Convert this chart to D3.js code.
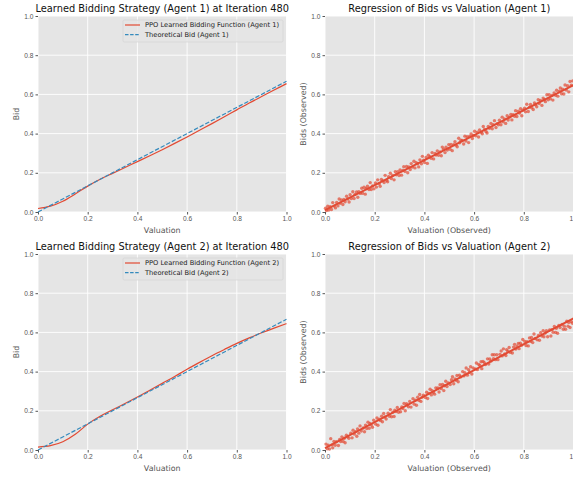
<!DOCTYPE html>
<meta charset="utf-8">
<style>
body { margin: 0; background: #fff; }
svg { font-family: "DejaVu Sans", sans-serif; }
.tick text { fill: #555; font-size: 6.6px; }
.tick line { stroke: #555; }
.grid line { stroke: #fff; stroke-width: 0.9; }
.title { font-size: 9.8px; fill: #111; }
.axlabel { font-size: 7.9px; fill: #555; }
.legend text { font-size: 6.7px; fill: #222; }
</style>
<svg width="573" height="479"></svg>
<script src="https://cdn.jsdelivr.net/npm/d3@7"></script>
<script>

// valuation grid for the learned bidding functions
var grid = [0, .05, .1, .15, .2, .25, .3, .35, .4, .45, .5, .55, .6, .65, .7, .75, .8, .85, .9, .95, 1];
var learned1 = [0.018, 0.030, 0.055, 0.092, 0.132, 0.167, 0.197, 0.227, 0.257, 0.287, 0.318,
                0.350, 0.383, 0.417, 0.451, 0.486, 0.521, 0.556, 0.589, 0.622, 0.655];
var learned2 = [0.015, 0.022, 0.042, 0.080, 0.132, 0.172, 0.205, 0.237, 0.270, 0.305, 0.340,
                0.375, 0.412, 0.447, 0.481, 0.513, 0.544, 0.572, 0.598, 0.622, 0.645];
// theoretical bid endpoints
var theoryX = [0, 1];
var theory1 = [0, 0.667];
var theory2 = [0, 0.667];

var ticks = [0, 0.2, 0.4, 0.6, 0.8, 1.0];

// observed valuations / bids (agent 1)
var valuation1 = [
 0.002,0.006,0.011,0.015,0.021,0.026,0.031,0.037,0.042,0.047,
 0.052,0.057,0.061,0.066,0.072,0.076,0.081,0.087,0.092,0.097,
 0.101,0.106,0.112,0.117,0.121,0.127,0.132,0.136,0.142,0.148,
 0.151,0.157,0.162,0.166,0.171,0.177,0.182,0.186,0.191,0.197,
 0.203,0.207,0.212,0.218,0.222,0.227,0.233,0.238,0.242,0.248,
 0.252,0.256,0.263,0.267,0.272,0.278,0.283,0.287,0.293,0.298,
 0.302,0.308,0.313,0.317,0.322,0.328,0.333,0.337,0.343,0.347,
 0.352,0.358,0.362,0.367,0.373,0.377,0.382,0.388,0.392,0.397,
 0.401,0.407,0.412,0.416,0.422,0.427,0.431,0.437,0.443,0.447,
 0.452,0.457,0.463,0.468,0.472,0.477,0.483,0.487,0.492,0.498,
 0.503,0.507,0.512,0.518,0.523,0.527,0.532,0.538,0.542,0.547,
 0.552,0.558,0.563,0.567,0.572,0.578,0.582,0.588,0.593,0.597,
 0.602,0.607,0.613,0.618,0.622,0.628,0.633,0.637,0.642,0.648,
 0.652,0.657,0.662,0.668,0.673,0.677,0.682,0.688,0.693,0.698,
 0.702,0.708,0.713,0.717,0.722,0.727,0.733,0.737,0.742,0.748,
 0.752,0.757,0.763,0.767,0.772,0.778,0.783,0.787,0.792,0.797,
 0.803,0.807,0.812,0.818,0.823,0.827,0.832,0.838,0.843,0.847,
 0.852,0.858,0.862,0.867,0.873,0.878,0.882,0.887,0.893,0.898,
 0.902,0.907,0.913,0.917,0.922,0.928,0.932,0.937,0.943,0.947,
 0.952,0.956,0.961,0.966,0.971,0.976,0.981,0.986,0.991,0.997];
var bids1 = [
 0.019,0.008,0.029,0.010,0.027,0.013,0.048,0.030,0.021,0.049,
 0.031,0.066,0.045,0.062,0.038,0.064,0.052,0.080,0.066,0.051,
 0.088,0.069,0.103,0.069,0.090,0.102,0.075,0.103,0.095,0.121,
 0.096,0.126,0.091,0.120,0.132,0.115,0.150,0.115,0.133,0.118,
 0.148,0.127,0.164,0.144,0.131,0.166,0.159,0.150,0.187,0.161,
 0.154,0.180,0.198,0.171,0.187,0.164,0.205,0.190,0.206,0.186,
 0.214,0.188,0.212,0.231,0.206,0.232,0.200,0.230,0.217,0.247,
 0.229,0.259,0.225,0.252,0.246,0.230,0.266,0.246,0.284,0.264,
 0.252,0.278,0.248,0.290,0.282,0.274,0.303,0.271,0.299,0.291,
 0.312,0.289,0.306,0.287,0.331,0.320,0.303,0.330,0.316,0.344,
 0.320,0.345,0.313,0.344,0.359,0.341,0.333,0.376,0.353,0.366,
 0.365,0.347,0.387,0.362,0.384,0.354,0.386,0.398,0.375,0.390,
 0.412,0.389,0.407,0.383,0.419,0.407,0.399,0.436,0.421,0.411,
 0.403,0.437,0.427,0.452,0.425,0.446,0.466,0.431,0.451,0.445,
 0.468,0.445,0.484,0.460,0.475,0.452,0.491,0.469,0.484,0.498,
 0.470,0.497,0.488,0.517,0.487,0.514,0.505,0.527,0.491,0.520,
 0.529,0.511,0.550,0.513,0.535,0.549,0.532,0.523,0.556,0.547,
 0.537,0.573,0.553,0.569,0.544,0.581,0.573,0.563,0.598,0.573,
 0.599,0.577,0.595,0.571,0.607,0.596,0.621,0.591,0.616,0.633,
 0.603,0.627,0.602,0.648,0.622,0.644,0.613,0.666,0.647,0.669];

// observed valuations / bids (agent 2)
var valuation2 = [
 0.004,0.009,0.013,0.018,0.023,0.028,0.031,0.036,0.041,0.046,
 0.054,0.059,0.063,0.068,0.073,0.078,0.081,0.086,0.091,0.096,
 0.104,0.109,0.113,0.118,0.123,0.128,0.131,0.136,0.141,0.146,
 0.154,0.159,0.163,0.168,0.173,0.178,0.181,0.186,0.191,0.196,
 0.204,0.209,0.213,0.218,0.223,0.228,0.231,0.236,0.241,0.246,
 0.254,0.259,0.263,0.268,0.273,0.278,0.281,0.286,0.291,0.296,
 0.304,0.309,0.313,0.318,0.323,0.328,0.331,0.336,0.341,0.346,
 0.354,0.359,0.363,0.368,0.373,0.378,0.381,0.386,0.391,0.396,
 0.404,0.409,0.413,0.418,0.423,0.428,0.431,0.436,0.441,0.446,
 0.454,0.459,0.463,0.468,0.473,0.478,0.481,0.486,0.491,0.496,
 0.504,0.509,0.513,0.518,0.523,0.528,0.531,0.536,0.541,0.546,
 0.554,0.559,0.563,0.568,0.573,0.578,0.581,0.586,0.591,0.596,
 0.604,0.609,0.613,0.618,0.623,0.628,0.631,0.636,0.641,0.646,
 0.654,0.659,0.663,0.668,0.673,0.678,0.681,0.686,0.691,0.696,
 0.704,0.709,0.713,0.718,0.723,0.728,0.731,0.736,0.741,0.746,
 0.754,0.759,0.763,0.768,0.773,0.778,0.781,0.786,0.791,0.796,
 0.804,0.809,0.813,0.818,0.823,0.828,0.831,0.836,0.841,0.846,
 0.854,0.859,0.863,0.868,0.873,0.878,0.881,0.886,0.891,0.896,
 0.904,0.909,0.913,0.918,0.923,0.928,0.931,0.936,0.941,0.946,
 0.954,0.959,0.963,0.968,0.973,0.978,0.981,0.986,0.991,0.996];
var bids2 = [
 0.030,0.006,0.024,0.005,0.058,0.026,0.011,0.043,0.024,0.042,
 0.023,0.054,0.043,0.067,0.043,0.060,0.037,0.075,0.067,0.060,
 0.086,0.062,0.101,0.081,0.094,0.070,0.108,0.086,0.123,0.097,
 0.112,0.093,0.127,0.110,0.142,0.111,0.135,0.128,0.116,0.152,
 0.132,0.163,0.126,0.157,0.150,0.172,0.144,0.186,0.168,0.158,
 0.188,0.172,0.206,0.170,0.193,0.171,0.203,0.196,0.217,0.192,
 0.195,0.220,0.212,0.237,0.200,0.236,0.229,0.221,0.248,0.219,
 0.262,0.234,0.254,0.228,0.269,0.253,0.283,0.248,0.270,0.280,
 0.268,0.295,0.263,0.289,0.310,0.281,0.303,0.293,0.285,0.317,
 0.316,0.296,0.333,0.313,0.334,0.303,0.328,0.351,0.324,0.342,
 0.334,0.359,0.374,0.338,0.362,0.356,0.380,0.348,0.382,0.373,
 0.400,0.378,0.394,0.418,0.382,0.410,0.397,0.425,0.388,0.419,
 0.414,0.444,0.410,0.437,0.431,0.450,0.415,0.452,0.446,0.436,
 0.465,0.439,0.464,0.454,0.486,0.466,0.486,0.461,0.486,0.461,
 0.488,0.505,0.480,0.516,0.490,0.482,0.512,0.504,0.523,0.498,
 0.495,0.525,0.539,0.515,0.529,0.544,0.517,0.545,0.535,0.564,
 0.554,0.533,0.553,0.531,0.572,0.554,0.574,0.548,0.592,0.569,
 0.562,0.584,0.560,0.598,0.582,0.609,0.578,0.597,0.609,0.578,
 0.613,0.582,0.614,0.601,0.630,0.600,0.621,0.596,0.635,0.625,
 0.640,0.616,0.632,0.616,0.657,0.632,0.651,0.625,0.655,0.647];

var red = "#E24A33", blue = "#348ABD";
var svg = d3.select("svg");

// sets up background, grid, axes and labels; returns scales
function panel(x0, y0, title, xlab, ylab) {
  var w = 248.5, h = 196;
  var x = d3.scaleLinear().domain([0, 1]).range([x0, x0 + w]);
  var y = d3.scaleLinear().domain([0, 1]).range([y0 + h, y0]);
  var g = svg.append("g");

  g.append("rect").attr("x", x0).attr("y", y0).attr("width", w).attr("height", h).attr("fill", "#E5E5E5");

  var gr = g.append("g").attr("class", "grid");
  gr.selectAll("line.v").data(ticks).enter().append("line").attr("class", "v")
      .attr("x1", d => x(d)).attr("x2", d => x(d)).attr("y1", y0).attr("y2", y0 + h);
  gr.selectAll("line.h").data(ticks).enter().append("line").attr("class", "h")
      .attr("x1", x0).attr("x2", x0 + w).attr("y1", d => y(d)).attr("y2", d => y(d));

  var xa = g.append("g").attr("transform", "translate(0," + (y0 + h) + ")")
    .call(d3.axisBottom(x).tickValues(ticks).tickFormat(d3.format(".1f")).tickSize(2.5).tickPadding(2));
  var ya = g.append("g").attr("transform", "translate(" + x0 + ",0)")
    .call(d3.axisLeft(y).tickValues(ticks).tickFormat(d3.format(".1f")).tickSize(2.5).tickPadding(2));
  xa.select(".domain").remove();
  ya.select(".domain").remove();

  g.append("text").attr("class", "title").attr("x", x0 + w / 2).attr("y", y0 - 4)
    .attr("text-anchor", "middle").text(title);
  g.append("text").attr("class", "axlabel").attr("x", x0 + w / 2).attr("y", y0 + h + 21)
    .attr("text-anchor", "middle").text(xlab);
  g.append("text").attr("class", "axlabel")
    .attr("transform", "translate(" + (x0 - 19) + "," + (y0 + h / 2) + ") rotate(-90)")
    .attr("text-anchor", "middle").text(ylab);

  return { x: x, y: y, g: g };
}

function strategy(x0, y0, agent, learned, theory) {
  var p = panel(x0, y0, "Learned Bidding Strategy (Agent " + agent + ") at Iteration 480", "Valuation", "Bid");
  var line = d3.line().x(d => p.x(d[0])).y(d => p.y(d[1]));
  p.g.append("path").datum(d3.zip(grid, learned))
    .attr("d", line.curve(d3.curveMonotoneX)).attr("fill", "none")
    .attr("stroke", red).attr("stroke-width", 1.2);
  p.g.append("path").datum(d3.zip(theoryX, theory))
    .attr("d", d3.line().x(d => p.x(d[0])).y(d => p.y(d[1]))).attr("fill", "none")
    .attr("stroke", blue).attr("stroke-width", 1.2).attr("stroke-dasharray", "4.4,1.9");

  // legend
  var lg = p.g.append("g").attr("class", "legend").attr("transform", "translate(" + (x0 + 85) + "," + (y0 + 4) + ")");
  lg.append("rect").attr("width", 160).attr("height", 22).attr("rx", 1.5)
    .attr("fill", "#E5E5E5").attr("fill-opacity", 0.8).attr("stroke", "#d0d0d0").attr("stroke-width", 0.6);
  var items = [["PPO Learned Bidding Function (Agent " + agent + ")", red, null],
               ["Theoretical Bid (Agent " + agent + ")", blue, "3.5,1.6"]];
  items.forEach(function(it, i) {
    var yy = 5 + i * 9.6;
    lg.append("line").attr("x1", 2).attr("x2", 17).attr("y1", yy).attr("y2", yy)
      .attr("stroke", it[1]).attr("stroke-width", 1.2).attr("stroke-dasharray", it[2]);
    lg.append("text").attr("x", 22).attr("y", yy + 2.4).text(it[0]);
  });
}

function regression(x0, y0, agent, vals, bids) {
  var p = panel(x0, y0, "Regression of Bids vs Valuation (Agent " + agent + ")", "Valuation (Observed)", "Bids (Observed)");
  p.g.append("g").selectAll("circle").data(d3.zip(vals, bids)).enter().append("circle")
    .attr("cx", d => p.x(d[0])).attr("cy", d => p.y(d[1])).attr("r", 1.7)
    .attr("fill", red).attr("fill-opacity", 0.7);
  // least squares fit
  var mx = d3.mean(vals), my = d3.mean(bids);
  var sxy = d3.sum(vals, (v, i) => (v - mx) * (bids[i] - my));
  var sxx = d3.sum(vals, v => (v - mx) * (v - mx));
  var b = sxy / sxx, a = my - b * mx;
  var ext = [0, 1];
  p.g.append("line").attr("x1", p.x(ext[0])).attr("x2", p.x(ext[1]))
    .attr("y1", p.y(a + b * ext[0])).attr("y2", p.y(a + b * ext[1]))
    .attr("stroke", red).attr("stroke-width", 2);
}

strategy(38, 16, 1, learned1, theory1);
regression(325, 16, 1, valuation1, bids1);
strategy(38, 254, 2, learned2, theory2);
regression(325, 254, 2, valuation2, bids2);

</script>
